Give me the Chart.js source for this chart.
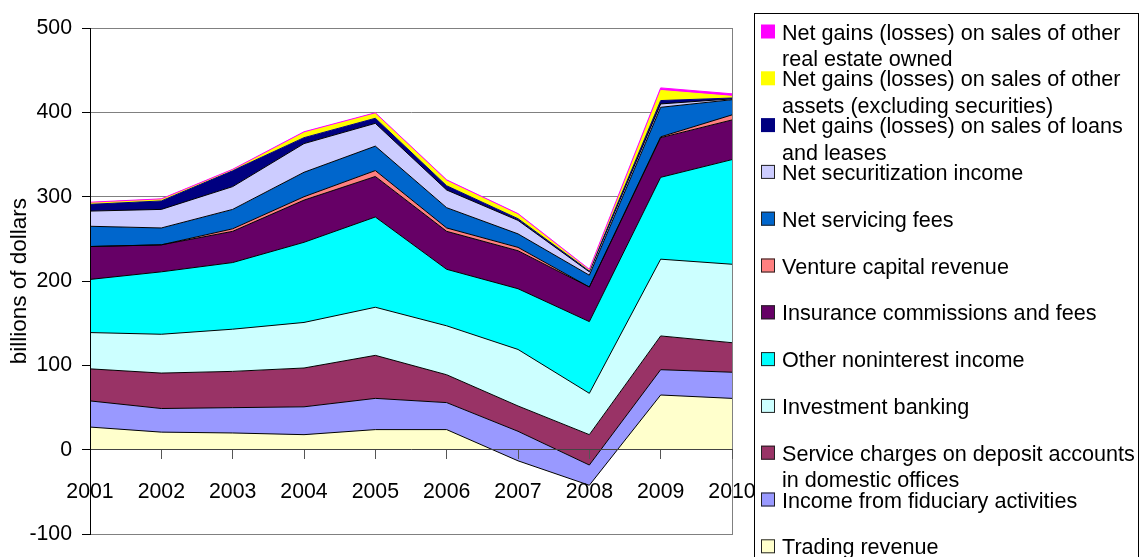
<!DOCTYPE html>
<html>
<head>
<meta charset="utf-8">
<title>Noninterest income components</title>
<script src="https://cdn.jsdelivr.net/npm/chart.js@4.4.0/dist/chart.umd.min.js"></script>
<style>
  html, body { margin: 0; padding: 0; background: #fff; }
  #wrap { width: 1139px; height: 557px; position: relative; }
</style>
</head>
<body>
<div id="wrap"><canvas id="chart"></canvas></div>
<script>
// years on the category axis
const years = ["2001", "2002", "2003", "2004", "2005", "2006", "2007", "2008", "2009", "2010"];

// billions of dollars, listed from the bottom of the stack upwards
const tradingRevenue       = [27, 21, 20, 18, 24, 24, -13, -42, 65, 61];
const fiduciaryIncome      = [31, 28, 30, 33, 37, 32, 35, 24, 30, 31];
const serviceCharges       = [38, 42, 43, 46, 51, 33, 30, 36, 40, 35];
const investmentBanking    = [43, 46, 50, 54, 57, 58, 67, 49, 91, 93];
const otherNoninterest     = [63, 74, 79, 95, 107, 67, 72, 85, 97, 124];
const insuranceFees        = [39, 32, 37, 50, 48, 45, 45, 41, 47, 47];
const ventureCapital       = [0, 0, 3, 4, 7, 4, 4, 0, 1, 6];
const servicingFees        = [24, 20, 23, 29, 29, 24, 16, 14, 35, 18];
const securitizationIncome = [18, 22, 27, 34, 27, 21, 16, 4, 4, 1];
const loanSaleGains        = [8, 10, 19, 7, 6, 5, 2, 1, 4, 1];
const otherAssetGains      = [2, 2, 1, 6, 6, 6, 5, 1, 12, 2];
const realEstateGains      = [0.5, 0.5, 0.5, 1, 0.5, 1, 1, 1, 3, 3];

const yMin = -100, yMax = 500, yStep = 100;

const FONT = '"Liberation Sans", Arial, sans-serif';

// series, bottom first; legend text split the way the original wraps it
const series = [
  { lines: ["Trading revenue"], data: tradingRevenue, color: "#FFFFCC", edge: "#000" },
  { lines: ["Income from fiduciary activities"], data: fiduciaryIncome, color: "#9999FF", edge: "#000" },
  { lines: ["Service charges on deposit accounts", "in domestic offices"], data: serviceCharges, color: "#993366", edge: "#000" },
  { lines: ["Investment banking"], data: investmentBanking, color: "#CCFFFF", edge: "#000" },
  { lines: ["Other noninterest income"], data: otherNoninterest, color: "#00FFFF", edge: "#000" },
  { lines: ["Insurance commissions and fees"], data: insuranceFees, color: "#660066", edge: "#000" },
  { lines: ["Venture capital revenue"], data: ventureCapital, color: "#FF8080", edge: "#000" },
  { lines: ["Net servicing fees"], data: servicingFees, color: "#0066CC", edge: "#000" },
  { lines: ["Net securitization income"], data: securitizationIncome, color: "#CCCCFF", edge: "#000" },
  { lines: ["Net gains (losses) on sales of loans", "and leases"], data: loanSaleGains, color: "#000080", edge: null },
  { lines: ["Net gains (losses) on sales of other", "assets (excluding securities)"], data: otherAssetGains, color: "#FFFF00", edge: null },
  { lines: ["Net gains (losses) on sales of other", "real estate owned"], data: realEstateGains, color: "#FF00FF", edge: null }
];

// Excel stacks the running total whatever the sign and paints later series on top,
// so the running sums are plotted directly and each area fills down to the one below
let running = years.map(() => 0);
const datasets = series.map((s, i) => {
  running = running.map((v, j) => v + s.data[j]);
  return {
    label: s.lines.join(" "),
    data: running.slice(),
    fill: i === 0 ? "origin" : "-1",
    backgroundColor: s.color,
    borderColor: s.edge || s.color,
    borderWidth: 1,
    pointRadius: 0,
    tension: 0,
    order: series.length - i
  };
});

const frame = {
  id: "frame",
  afterDatasetsDraw(chart) {
    const { ctx, chartArea: a } = chart;
    ctx.save();
    ctx.strokeStyle = "#808080";
    ctx.lineWidth = 1;
    ctx.strokeRect(Math.round(a.left) + 0.5, Math.round(a.top) + 0.5,
                   Math.round(a.right - a.left), Math.round(a.bottom - a.top));
    ctx.restore();
  }
};

const sideLegend = {
  id: "sideLegend",
  afterDraw(chart) {
    const ctx = chart.ctx;
    ctx.save();
    ctx.strokeStyle = "#000";
    ctx.lineWidth = 1;
    ctx.strokeRect(754.5, 13.5, 384, 600);
    ctx.font = "21.6px " + FONT;
    ctx.textBaseline = "alphabetic";
    ctx.textAlign = "left";
    const items = series.slice().reverse();
    items.forEach((s, k) => {
      const base = 39.5 + k * 46.8;
      ctx.fillStyle = s.color;
      ctx.fillRect(761, base - 15, 14, 14);
      if (s.edge) {
        ctx.strokeStyle = "#222";
        ctx.strokeRect(761.5, base - 14.5, 13, 13);
      }
      ctx.fillStyle = "#000";
      s.lines.forEach((t, n) => ctx.fillText(t, 782, base + n * 26.5));
    });
    ctx.restore();
  }
};

Chart.defaults.font.family = FONT;
Chart.defaults.font.size = 21;
Chart.defaults.color = "#000";

new Chart(document.getElementById("chart"), {
  type: "line",
  data: { labels: years, datasets: datasets },
  options: {
    responsive: true,
    maintainAspectRatio: false,
    animation: false,
    events: [],
    layout: { padding: { left: 3, right: 407, top: 28, bottom: 19 } },
    plugins: {
      legend: { display: false },
      tooltip: { enabled: false },
      filler: { drawTime: "beforeDatasetsDraw" }
    },
    scales: {
      x: {
        type: "category",
        position: { y: 0 },
        offset: false,
        grid: { drawOnChartArea: false, drawTicks: true, tickLength: 9, tickColor: "#555", z: 1 },
        border: { display: true, color: "#444", width: 1, z: 1 },
        ticks: { color: "#000", font: { size: 21.3 }, padding: 20, maxRotation: 0, autoSkip: false, z: 1 }
      },
      y: {
        min: yMin,
        max: yMax,
        ticks: { stepSize: yStep, color: "#000", font: { size: 21.3 }, padding: 10 },
        grid: { color: "#808080", tickColor: "#000", tickLength: 8, z: -1 },
        border: { display: true, color: "#000", width: 1, z: 1 },
        title: { display: true, text: "billions of dollars", color: "#000", font: { size: 22.5 }, padding: { top: 3, bottom: 4 } },
        afterFit(scale) { scale.width = 87; }
      }
    }
  },
  plugins: [frame, sideLegend]
});
</script>
</body>
</html>
